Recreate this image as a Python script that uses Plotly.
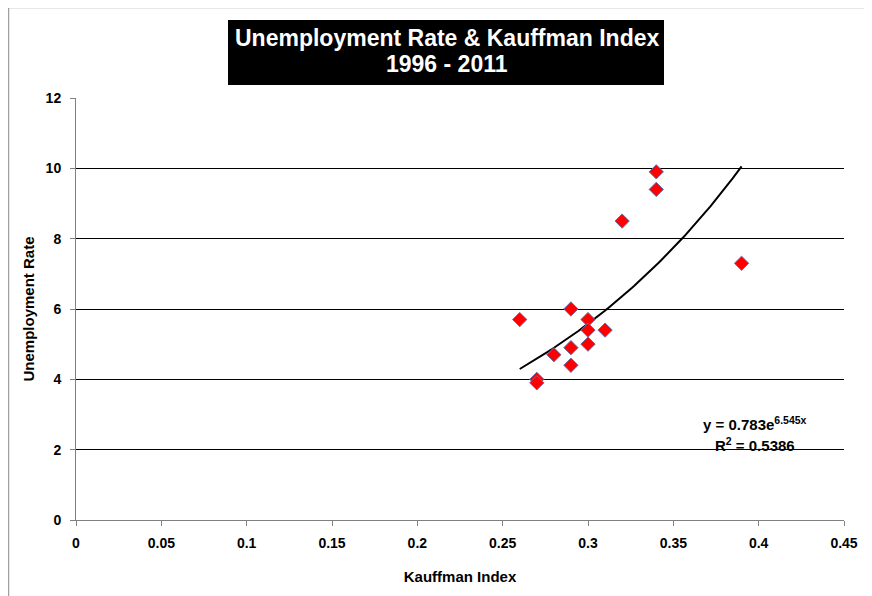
import numpy as np
import plotly.graph_objects as go

# Data
kauffman_index = [0.34, 0.34, 0.32, 0.39, 0.26, 0.29, 0.30, 0.30, 0.31, 0.30, 0.29, 0.28, 0.29, 0.27, 0.27]
unemployment_rate = [9.9, 9.4, 8.5, 7.3, 5.7, 6.0, 5.7, 5.4, 5.4, 5.0, 4.9, 4.7, 4.4, 4.0, 3.9]

# Exponential trendline parameters (as shown on chart)
trend_a = 0.783
trend_b = 6.545
trend_r2 = 0.5386

x_ticks = [0, 0.05, 0.1, 0.15, 0.2, 0.25, 0.3, 0.35, 0.4, 0.45]
x_tick_labels = ["0", "0.05", "0.1", "0.15", "0.2", "0.25", "0.3", "0.35", "0.4", "0.45"]
y_ticks = [0, 2, 4, 6, 8, 10, 12]

OFF = 8  # page body margin
W, H = 872 - OFF, 596 - OFF
L, R, T, B = 76 - OFF, 28, 98 - OFF, 76
pw, ph = W - L - R, H - T - B

def px_x(p):
    return (p - OFF - L) / pw

def px_y(p):
    return (H - B - (p - OFF)) / ph

tx = np.linspace(min(kauffman_index), max(kauffman_index), 100)
ty = trend_a * np.exp(trend_b * tx)

font = "Liberation Sans, Arial, sans-serif"

fig = go.Figure()
fig.add_trace(go.Scatter(
    x=tx, y=ty, mode="lines",
    line=dict(color="black", width=2),
    hoverinfo="skip", showlegend=False,
))
fig.add_trace(go.Scatter(
    x=kauffman_index, y=unemployment_rate, mode="markers",
    marker=dict(symbol="diamond", size=11, color="#ff0000",
                line=dict(color="#6b6ba8", width=1)),
    showlegend=False,
))

fig.update_layout(
    width=W, height=H,
    margin=dict(l=L, r=R, t=T, b=B),
    paper_bgcolor="white", plot_bgcolor="white",
    font=dict(family=font, size=12, color="black"),
    xaxis=dict(
        range=[0, 0.45], tickvals=x_ticks, ticktext=x_tick_labels,
        showgrid=False, zeroline=False,
        showline=True, linecolor="#808080", linewidth=1,
        ticks="outside", ticklen=5, tickcolor="#808080",
        ticklabelstandoff=5,
        tickfont=dict(family=font, size=14, color="black", weight="bold"),
        title=dict(text="<b>Kauffman Index</b>", font=dict(family=font, size=15), standoff=21),
    ),
    yaxis=dict(
        range=[0, 12], tickvals=y_ticks,
        showgrid=True, gridcolor="black", gridwidth=1, zeroline=False,
        showline=True, linecolor="#808080", linewidth=1,
        ticks="outside", ticklen=5, tickcolor="#808080",
        ticklabelstandoff=6,
        tickfont=dict(family=font, size=14, color="black", weight="bold"),
        title=dict(text="<b>Unemployment Rate</b>", font=dict(family=font, size=15), standoff=7),
    ),
    shapes=[
        # title box
        dict(type="rect", xref="paper", yref="paper",
             x0=px_x(228), x1=px_x(664), y0=px_y(85), y1=px_y(20),
             fillcolor="black", line=dict(width=0), layer="above"),
        # chart border (left and top)
        dict(type="line", xref="paper", yref="paper",
             x0=px_x(8.5), x1=px_x(8.5), y0=px_y(7.5), y1=px_y(600),
             line=dict(color="#a0a0a0", width=1.5)),
        dict(type="line", xref="paper", yref="paper",
             x0=px_x(8.5), x1=px_x(880), y0=px_y(7.5), y1=px_y(7.5),
             line=dict(color="#a0a0a0", width=1.5)),
    ],
    annotations=[
        dict(text="<b>Unemployment Rate &amp; Kauffman Index</b>",
             xref="paper", yref="paper", x=px_x(447), y=px_y(38),
             xanchor="center", yanchor="middle", showarrow=False,
             font=dict(family=font, size=23, color="white")),
        dict(text="<b>1996 - 2011</b>",
             xref="paper", yref="paper", x=px_x(447), y=px_y(64),
             xanchor="center", yanchor="middle", showarrow=False,
             font=dict(family=font, size=23, color="white")),
        dict(text="<b>y = 0.783e<sup>6.545x</sup></b>",
             xref="paper", yref="paper", x=px_x(755), y=px_y(423),
             xanchor="center", yanchor="middle", showarrow=False,
             font=dict(family=font, size=15, color="black")),
        dict(text="<b>R<sup>2</sup> = 0.5386</b>",
             xref="paper", yref="paper", x=px_x(755), y=px_y(444),
             xanchor="center", yanchor="middle", showarrow=False,
             font=dict(family=font, size=15, color="black")),
    ],
)

fig.write_html("out.html")
